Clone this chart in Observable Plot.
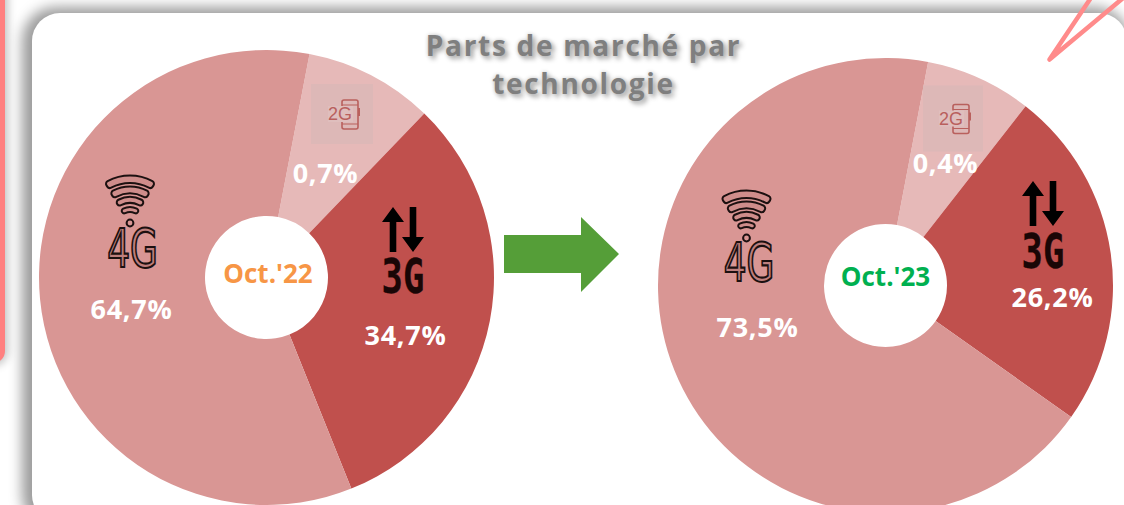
<!DOCTYPE html>
<html><head><meta charset="utf-8">
<script src="https://cdn.jsdelivr.net/npm/d3@7"></script>
<script src="https://cdn.jsdelivr.net/npm/@observablehq/plot@0.6"></script>
<style>
html,body{margin:0;padding:0;background:#fff;overflow:hidden;width:1124px;height:505px}
#stage{position:relative;width:1124px;height:505px;overflow:hidden}
#side{position:absolute;left:-40px;top:-40px;width:45px;height:403px;background:#ff8080;border-radius:0 0 12px 0;box-shadow:0 0 9px 3px #c4c4c4}
#panel{position:absolute;left:32px;top:13px;width:1095px;height:510px;background:#fff;border-radius:28px;box-shadow:-4px 0 13px 6px #9c9c9c}
#chart{position:absolute;left:0;top:0}
.ttl text{letter-spacing:1.7px;text-shadow:3px 3px 5px #a0a0a0,0 0 4px #c8c8c8}
.pct text{letter-spacing:.7px}
</style></head><body>
<div id="stage"><div id="side"></div><div id="panel"></div><div id="chart"></div></div>
<script>
const categories = ["2G", "3G", "4G"];
const colors = ["#e6b9b8", "#c0504d", "#d99694"];
// Shares as drawn in the slices (the picture's slice sizes differ from the printed percentages)
const drawnOct22 = [9.17, 31.72, 59.11];
const drawnOct23 = [7.56, 24.25, 68.19];
const printedOct22 = ["0,7%", "34,7%", "64,7%"];
const printedOct23 = ["0,4%", "26,2%", "73,5%"];
const periods = ["Oct.'22", "Oct.'23"];
const periodColors = ["#f79646", "#00b050"];
const titleLines = ["Parts de marché par", "technologie"];

const F = "'Open Sans',sans-serif";
const R = 227.5, HOLE = 61.5;
const pies = [
  {cx: 266.5, cy: 277.5, drawn: drawnOct22, start: 10.9, printed: printedOct22,
   lab: [[325,174],[405,336],[131,310]], ty: 274, tx: 267.5, period: periods[0], pc: periodColors[0]},
  {cx: 885.5, cy: 285.5, drawn: drawnOct23, start: 10.8, printed: printedOct23,
   lab: [[945,164],[1052,298],[757,328]], ty: 277, tx: 885, period: periods[1], pc: periodColors[1]}
];

function pieMark(p) {
  return (index, {x, y}) => {
    const g = d3.create("svg:g").attr("transform", `translate(${x(p.cx)},${y(p.cy)})`);
    const arcs = d3.pie().sort(null).value(d => d)
      .startAngle(p.start * Math.PI / 180).endAngle((p.start + 360) * Math.PI / 180)(p.drawn);
    const arc = d3.arc().innerRadius(HOLE).outerRadius(R);
    g.selectAll("path").data(arcs).join("path").attr("d", arc).attr("fill", (d, i) => colors[i]);
    return g.node();
  };
}
function polyMark(points, fill) {
  return (index, {x, y}) => d3.create("svg:path")
      .attr("d", d3.line().x(d => x(d[0])).y(d => y(d[1]))(points) + "Z")
      .attr("fill", fill).node();
}
function wifiMark(cx, cy) {
  return (index, {x, y}) => {
    const g = d3.create("svg:g").attr("transform", `translate(${x(cx)},${y(cy)})`);
    const a = Math.PI / 180;
    [[40,47.5,32],[29.5,36.5,33],[20,26,34],[11,16,36]].forEach(([r0, r1, deg]) => {
      g.append("path").attr("d", d3.arc().innerRadius(r0).outerRadius(r1).startAngle(-deg*a).endAngle(deg*a).cornerRadius(3)())
        .attr("fill", "#cf8d8b").attr("stroke", "#1c1010").attr("stroke-width", 2);
    });
    g.append("circle").attr("r", 3.4).attr("fill", "#d99694").attr("stroke", "#1c1010").attr("stroke-width", 2);
    return g.node();
  };
}
function arrowPts(cx, top, bottom, dir) {
  const tip = dir < 0 ? top : bottom, tail = dir < 0 ? bottom : top, d = dir;
  return [[cx-3.3,tail],[cx+3.3,tail],[cx+3.3,tip-d*15],[cx+11,tip-d*15],[cx,tip],[cx-11,tip-d*15],[cx-3.3,tip-d*15]];
}
function phoneMark(cx, cy, w, h) {
  return (index, {x, y}) => {
    const g = d3.create("svg:g").attr("transform", `translate(${x(cx)},${y(cy)})`);
    const ink = "#b9605d";
    g.append("rect").attr("x", -w/2).attr("y", -h/2).attr("width", w).attr("height", h).attr("fill", "#d9b8b7").attr("opacity", .75);
    g.append("rect").attr("x", 0).attr("y", -14).attr("width", 16).attr("height", 29).attr("rx", 2)
      .attr("fill", "none").attr("stroke", ink).attr("stroke-width", 1.6);
    g.append("path").attr("d", "M0,-9H16M0,10H16").attr("stroke", ink).attr("stroke-width", 1.2);
    g.append("rect").attr("x", 16).attr("y", -6).attr("width", 2).attr("height", 8).attr("fill", ink);
    g.append("rect").attr("x", -14).attr("y", -8).attr("width", 25).attr("height", 16).attr("fill", "#dfbebd");
    return g.node();
  };
}
function stretchedText(t, cx, cy, size, sx, attrs) {
  return (index, {x, y}) => {
    const el = d3.create("svg:text")
      .attr("transform", `translate(${x(cx)},${y(cy)}) scale(${sx},1)`)
      .attr("text-anchor", "middle").attr("dy", "0.365em")
      .attr("font-size", size).text(t);
    for (const k in attrs) el.attr(k, attrs[k]);
    return el.node();
  };
}

const txt = (arr, o) => Plot.text(arr, {x: d => d[0], y: d => d[1], text: d => d[2], fontFamily: F, ...o});
const marks = [];
pies.forEach(p => {
  marks.push(pieMark(p));
  marks.push(txt(p.printed.map((t, i) => [p.lab[i][0], p.lab[i][1], t]),
    {fill: "#fff", fontSize: 27, fontWeight: 700, className: "pct"}));
  marks.push(txt([[p.tx, p.ty, p.period]], {fill: p.pc, fontSize: 26, fontWeight: 700}));
});
// Icons
const icons = [
  {wx: 130, wy: 223, gx: 132.5, gy: 247, bx: 403, by: 207, ty: 275, px: 342, py: 114, pw: 62, ph: 60, tx: 339.5, pty: 113.5},
  {wx: 746.5, wy: 238, gx: 749, gy: 261.5, bx: 1043, by: 181, ty: 250, px: 953, py: 118.5, pw: 60, ph: 66, tx: 950.5, pty: 118.5}
];
icons.forEach(ic => {
  marks.push(wifiMark(ic.wx, ic.wy));
  marks.push(stretchedText("4G", ic.gx, ic.gy, 54, 0.74, {fill: "#bf7f7d", stroke: "#1c1010", "stroke-width": 2.1,
    "font-family": "'DejaVu Sans Condensed','DejaVu Sans'"}));
  marks.push(polyMark(arrowPts(ic.bx - 10, ic.by, ic.by + 45, -1), "#000"));
  marks.push(polyMark(arrowPts(ic.bx + 10, ic.by, ic.by + 45, 1), "#000"));
  marks.push(stretchedText("3G", ic.bx, ic.ty, 48, 0.74, {fill: "#1a0606", stroke: "#1a0606", "stroke-width": .3,
    "font-family": "'DejaVu Sans Mono',monospace", "font-weight": 700}));
  marks.push(phoneMark(ic.px, ic.py, ic.pw, ic.ph));
  marks.push(txt([[ic.tx, ic.pty, "2G"]], {fill: "#b9605d", fontSize: 18, fontFamily: "'Liberation Sans',sans-serif"}));
});
// Centre arrow
marks.push(polyMark([[504,235],[581,235],[581,217],[619,254],[581,292],[581,273],[504,273]], "#559e38"));
// Title
marks.push(txt([[583,47,titleLines[0]],[583,85,titleLines[1]]], {fill: "#7f7f7f", fontSize: 28, fontWeight: 700, className: "ttl"}));
// Corner decoration
marks.push(Plot.line([[1122,-2],[1049,59],[1090,-2]], {x: d => d[0], y: d => d[1], stroke: "#ff8b8b", strokeWidth: 4.5, strokeLinejoin: "round", strokeLinecap: "round"}));

const chart = Plot.plot({
  width: 1124, height: 505, margin: 0,
  x: {domain: [0, 1124], range: [0, 1124], axis: null},
  y: {domain: [0, 505], range: [0, 505], axis: null},
  style: {background: "transparent"},
  marks
});
document.getElementById("chart").append(chart);
</script></body></html>
